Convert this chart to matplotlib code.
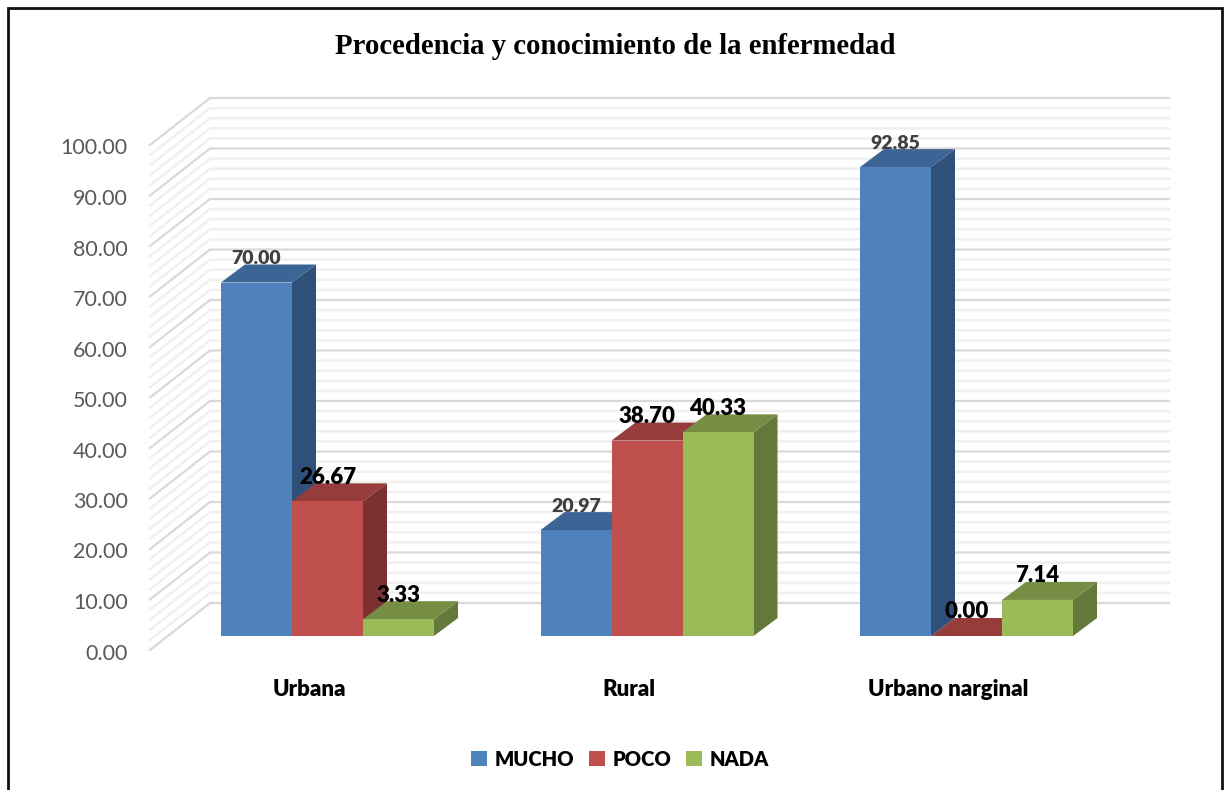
import numpy as np
import matplotlib
matplotlib.use('Agg')
import matplotlib.pyplot as plt
from matplotlib.patches import Polygon
from matplotlib.lines import Line2D
from matplotlib.transforms import ScaledTranslation

categories = ['Urbana', 'Rural', 'Urbano narginal']
series_names = ['MUCHO', 'POCO', 'NADA']
mucho = [70.00, 20.97, 92.85]
poco = [26.67, 38.70, 0.00]
nada = [3.33, 40.33, 7.14]
y_ticks = [0, 10, 20, 30, 40, 50, 60, 70, 80, 90, 100]

front_colors = ['#4f81bd', '#c0504d', '#9bbb59']
top_colors = ['#3c6494', '#963c3a', '#768e44']
side_colors = ['#2f5179', '#7b312f', '#637939']
label_colors = ['#404040', 'black', 'black']
label_sizes = [14, 16, 16]

W, H = 1225, 790
LEFT, RIGHT = 150, 1169     # wall front edge, back wall right end
Y0, Y100 = 650, 145
GROUP_PX = 319.5
GROUP0_PX = 327.5
UNIT_PX = (Y0 - Y100) / 100.0


def px_x(p):
    return p / GROUP_PX


def px_y(p):
    return p / UNIT_PX


fig = plt.figure(figsize=(W / 100, H / 100), dpi=100, facecolor='white')
ax = fig.add_axes([LEFT / W, 1 - Y0 / H, (RIGHT - LEFT) / W, (Y0 - Y100) / H])
ax.set_xlim((LEFT - GROUP0_PX) / GROUP_PX, (RIGHT - GROUP0_PX) / GROUP_PX)
ax.set_ylim(0, 100)
ax.patch.set_visible(False)
for s in ax.spines.values():
    s.set_visible(False)

# walls: back lines and the slanted ones on the left
x_left = ax.get_xlim()[0]
x_right = ax.get_xlim()[1]
wall_dx = px_x(60)
wall_dy = px_y(47)
for v in np.arange(0, 101, 2):
    major = v % 10 == 0
    c = '#d9d9d9' if major else '#f0f0f0'
    lw = 1.6 if major else 1.8
    ax.plot([x_left, x_left + wall_dx, x_right], [v, v + wall_dy, v + wall_dy],
            color=c, lw=lw, zorder=2 if major else 1, clip_on=False,
            solid_joinstyle='miter')

# bars
x = np.arange(len(categories))
bar_w = 71 / GROUP_PX
base = px_y(14)
dx = px_x(24)
dy = px_y(18)
rows = [mucho, poco, nada]
containers = []
for i, vals in enumerate(rows):
    pos = x + (i - 1) * bar_w
    z = 5 + i
    cont = ax.bar(pos, vals, bar_w, bottom=base, color=front_colors[i],
                  label=series_names[i], zorder=z + 0.5, linewidth=0, clip_on=False)
    containers.append(cont)
    for p, v in zip(pos, vals):
        l = p - bar_w / 2
        r = p + bar_w / 2
        t = base + v
        ax.add_patch(Polygon([(r, base), (r + dx, base + dy), (r + dx, t + dy), (r, t)],
                             closed=True, fc=side_colors[i], ec='none', zorder=z, clip_on=False))
        ax.add_patch(Polygon([(l, t), (l + dx, t + dy), (r + dx, t + dy), (r, t)],
                             closed=True, fc=top_colors[i], ec='none', zorder=z, clip_on=False))
        ax.text(p, t + px_y(24), f'{v:.2f}', ha='center', va='center',
                fontsize=label_sizes[i], fontweight=800, family='Lato',
                color=label_colors[i], zorder=20, clip_on=False)

ax.set_yticks(y_ticks)
ax.set_yticklabels([f'{v:.2f}' for v in y_ticks], family='Lato', fontsize=15.5, color='#595959')
ax.set_xticks(x - px_x(18))
ax.set_xticklabels(categories, family='Lato', fontsize=16, fontweight=800, color='black')
ax.tick_params(axis='y', length=0, pad=16)
ax.tick_params(axis='x', length=0, pad=21)
# tick labels sit a little lower than the axis value
nudge = ScaledTranslation(0, -1.5 / 100, fig.dpi_scale_trans)
for lab in ax.get_yticklabels():
    lab.set_transform(lab.get_transform() + nudge)

leg = ax.legend(handles=[c[0] for c in containers], labels=series_names, loc='center',
                bbox_to_anchor=(620 / W, 1 - 759 / H), bbox_transform=fig.transFigure,
                ncol=3, frameon=False, handlelength=0.8, handleheight=0.8,
                handletextpad=0.35, columnspacing=0.75,
                prop={'family': 'Lato', 'weight': 800, 'size': 14.5})

fig.text(615 / W, 1 - 46 / H, 'Procedencia y conocimiento de la enfermedad', ha='center', va='center',
         family='Liberation Serif', fontweight='bold', fontsize=20.7, color='black')

# chart frame, its bottom edge is cut off in the original
fig.add_artist(Line2D([7.5 / W, 7.5 / W, 1221.5 / W, 1221.5 / W],
                      [0, 1 - 7.5 / H, 1 - 7.5 / H, 0], color='#111111', lw=2,
                      transform=fig.transFigure, solid_joinstyle='miter'))

fig.savefig('out.png', dpi=100)
plt.close()
